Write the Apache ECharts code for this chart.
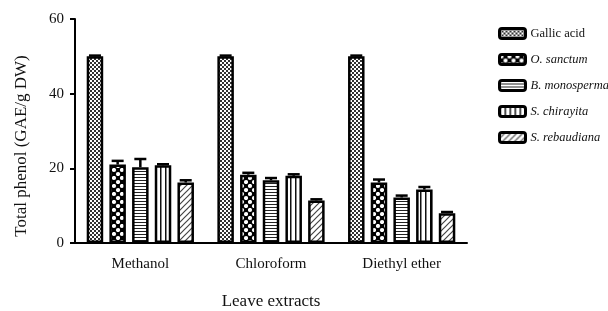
<!DOCTYPE html>
<html>
<head>
<meta charset="utf-8">
<style>
  html, body { margin: 0; padding: 0; background: #fff; }
  #chart { width: 608px; height: 311px; }
</style>
<script src="https://cdn.jsdelivr.net/npm/echarts@6/dist/echarts.min.js"></script>
</head>
<body>
<div id="chart"></div>
<script>
var categories = ['Methanol', 'Chloroform', 'Diethyl ether'];
var seriesNames = ['Gallic acid', 'O. sanctum', 'B. monosperma', 'S. chirayita', 'S. rebaudiana'];
var gallicAcid   = [50, 50, 50];
var oSanctum     = [21.0, 18.3, 16.2];
var bMonosperma  = [20.3, 16.8, 12.2];
var sChirayita   = [20.8, 18.0, 14.3];
var sRebaudiana  = [16.2, 11.4, 8.0];
// standard errors (upper half only is visible)
var errGallic    = [0.2, 0.2, 0.2];
var errSanctum   = [1.0, 0.5, 0.8];
var errMono      = [2.2, 0.6, 0.5];
var errChirayita = [0.3, 0.4, 0.7];
var errRebaud    = [0.6, 0.3, 0.3];
var yTicks = [0, 20, 40, 60];

var values = [gallicAcid, oSanctum, bMonosperma, sChirayita, sRebaudiana];
var errors = [errGallic, errSanctum, errMono, errChirayita, errRebaud];

var BAR_W = 16.5, BAR_GAP = 0.375;
var FONT = '"Liberation Serif", "DejaVu Serif", serif';

// 填充纹理
function makePattern(size, draw) {
    var c = document.createElement('canvas');
    c.width = size; c.height = size;
    var ctx = c.getContext('2d');
    ctx.fillStyle = '#fff';
    ctx.fillRect(0, 0, size, size);
    draw(ctx, size);
    return { image: c, repeat: 'repeat' };
}

var patterns = [
    makePattern(4, function (ctx) {
        ctx.fillStyle = '#333';
        ctx.fillRect(0, 0, 2, 2);
        ctx.fillRect(2, 2, 2, 2);
    }),
    makePattern(8, function (ctx, s) {
        ctx.fillStyle = '#000';
        ctx.fillRect(0, 0, s, s);
        ctx.fillStyle = '#fff';
        ctx.beginPath(); ctx.arc(2, 2, 2.1, 0, Math.PI * 2); ctx.fill();
        ctx.beginPath(); ctx.arc(6, 6, 2.1, 0, Math.PI * 2); ctx.fill();
    }),
    makePattern(3, function (ctx) {
        ctx.fillStyle = '#222';
        ctx.fillRect(0, 0, 3, 1);
    }),
    makePattern(5, function (ctx) {
        ctx.fillStyle = '#111';
        ctx.fillRect(0, 0, 1.5, 5);
    }),
    makePattern(6, function (ctx, s) {
        ctx.strokeStyle = '#444';
        ctx.lineWidth = 1.2;
        ctx.beginPath();
        ctx.moveTo(-1, s + 1); ctx.lineTo(s + 1, -1);
        ctx.moveTo(-1, 1); ctx.lineTo(1, -1);
        ctx.moveTo(s - 1, s + 1); ctx.lineTo(s + 1, s - 1);
        ctx.stroke();
    })
];

var barSeries = seriesNames.map(function (name, i) {
    return {
        name: name,
        type: 'bar',
        barWidth: BAR_W,
        barGap: (BAR_GAP * 100) + '%',
        data: values[i],
        itemStyle: {
            color: patterns[i],
            borderColor: '#000',
            borderWidth: 2.5
        },
        emphasis: { disabled: true }
    };
});

var errData = [];
values.forEach(function (arr, s) {
    arr.forEach(function (v, c) {
        errData.push([c, v, errors[s][c], s]);
    });
});

var errorSeries = {
    type: 'custom',
    name: 'err',
    silent: true,
    z: 3,
    data: errData,
    renderItem: function (params, api) {
        var cat = api.value(0), v = api.value(1), e = api.value(2), s = api.value(3);
        var n = seriesNames.length;
        var total = n * BAR_W + (n - 1) * BAR_W * BAR_GAP;
        var cx = api.coord([cat, 0])[0] - total / 2 + s * BAR_W * (1 + BAR_GAP) + BAR_W / 2;
        var yTop = api.coord([cat, v + e])[1];
        var yBar = api.coord([cat, v])[1];
        var half = 6;
        var st = { stroke: '#000', lineWidth: 2.5 };
        return {
            type: 'group',
            children: [
                { type: 'line', shape: { x1: cx, y1: yBar, x2: cx, y2: yTop }, style: st },
                { type: 'line', shape: { x1: cx - half, y1: yTop, x2: cx + half, y2: yTop }, style: st }
            ]
        };
    }
};

var chart = echarts.init(document.getElementById('chart'), null, { renderer: 'canvas' });

var option = {
    animation: false,
    textStyle: { fontFamily: FONT, color: '#000' },
    grid: { left: 75, right: 141, top: 19, bottom: 68, outerBoundsMode: 'none', containLabel: false },
    legend: {
        orient: 'vertical',
        left: 493,
        top: 22,
        itemWidth: 26,
        itemHeight: 10,
        itemGap: 13,
        selectedMode: false,
        itemStyle: { borderColor: '#000', borderWidth: 3 },
        data: seriesNames.map(function (n, i) {
            return {
                name: n,
                textStyle: { fontStyle: i === 0 ? 'normal' : 'italic' }
            };
        }),
        textStyle: { fontFamily: FONT, fontSize: 12.5, color: '#111' }
    },
    xAxis: {
        type: 'category',
        data: categories,
        name: 'Leave extracts',
        nameLocation: 'middle',
        nameGap: 50,
        nameTextStyle: { fontFamily: FONT, fontSize: 17, color: '#111' },
        axisLine: { lineStyle: { color: '#000', width: 2 } },
        axisTick: { alignWithLabel: true, length: 6, lineStyle: { color: '#000', width: 2 } },
        axisLabel: { fontFamily: FONT, fontSize: 15, color: '#111', margin: 14 },
        splitLine: { show: false }
    },
    yAxis: {
        type: 'value',
        min: yTicks[0],
        max: yTicks[yTicks.length - 1],
        interval: yTicks[1] - yTicks[0],
        name: 'Total phenol (GAE/g DW)',
        nameLocation: 'middle',
        nameGap: 45,
        nameTextStyle: { fontFamily: FONT, fontSize: 17, color: '#111', padding: [0, 30, 0, 0] },
        axisLine: { show: true, lineStyle: { color: '#000', width: 2 } },
        axisTick: { show: true, length: 5, lineStyle: { color: '#000', width: 2 } },
        axisLabel: { fontFamily: FONT, fontSize: 15, color: '#111', margin: 11 },
        splitLine: { show: false }
    },
    series: barSeries.concat([errorSeries])
};

chart.setOption(option);
</script>
</body>
</html>
